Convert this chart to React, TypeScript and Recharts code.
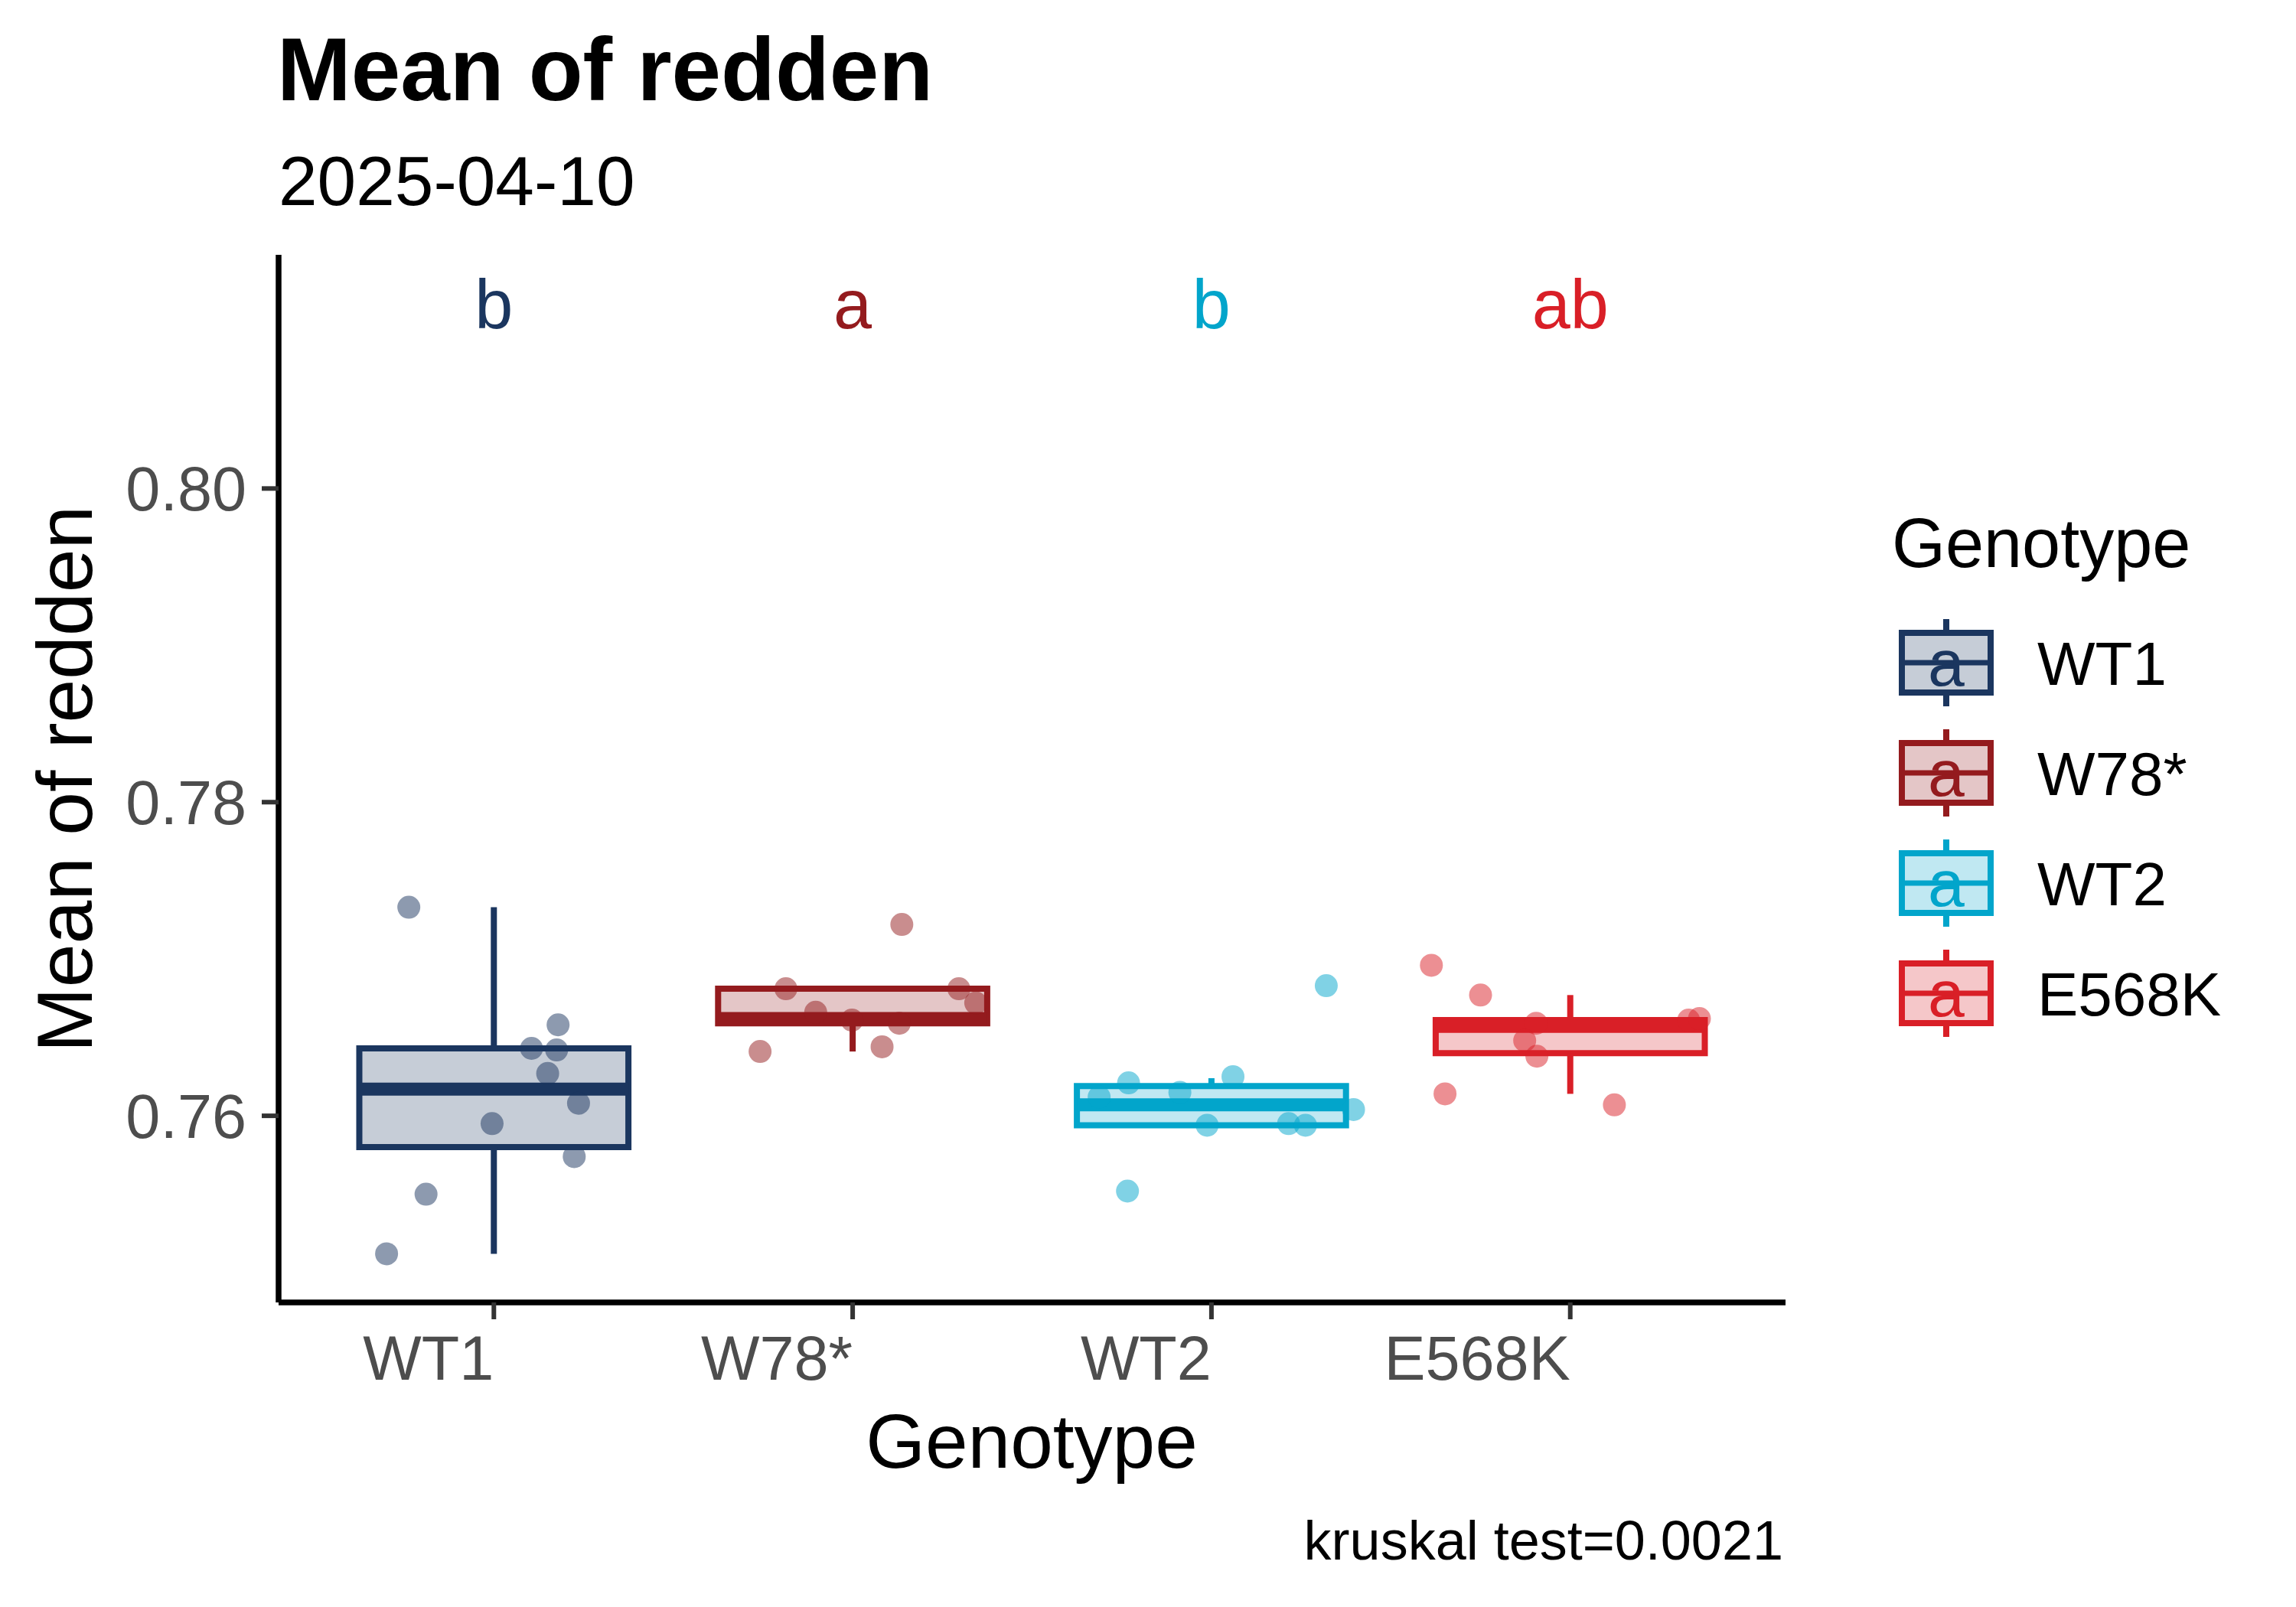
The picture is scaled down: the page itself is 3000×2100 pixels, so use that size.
import React from "react";
import {
  ComposedChart,
  XAxis,
  YAxis,
  Scatter,
  ReferenceArea,
  ReferenceLine,
  Legend,
} from "recharts";

const FONT = '"Liberation Sans", Arial, Helvetica, sans-serif';

const genotypes = ["WT1", "W78*", "WT2", "E568K"];
const colors = ["#1b365f", "#941b1e", "#02a5cb", "#d91f27"];
const letters = ["b", "a", "b", "ab"];
const letterLevel = 0.8115;

// jittered points (offset from category centre, value)
const wt1Jitter = [-0.237, 0.179, 0.105, 0.175, 0.15, 0.236, -0.005, 0.224, -0.189, -0.299];
const wt1Values = [0.7733, 0.7658, 0.7643, 0.7642, 0.7627, 0.7608, 0.7595, 0.7574, 0.755, 0.7512];
const w78Jitter = [0.137, -0.186, 0.296, 0.343, -0.103, -0.002, 0.13, -0.258, 0.082];
const w78Values = [0.7722, 0.7681, 0.7681, 0.7672, 0.7666, 0.7661, 0.7659, 0.7641, 0.7644];
const wt2Jitter = [0.32, 0.06, -0.231, -0.088, -0.313, 0.396, -0.012, 0.215, 0.262, -0.234];
const wt2Values = [0.7683, 0.7625, 0.7621, 0.7615, 0.7612, 0.7604, 0.7594, 0.7595, 0.7594, 0.7552];
const e568kJitter = [-0.387, -0.25, -0.095, -0.127, -0.093, 0.33, 0.36, -0.349, 0.123];
const e568kValues = [0.7696, 0.7677, 0.7659, 0.7648, 0.7638, 0.7661, 0.7662, 0.7614, 0.7607];

// box statistics
const whiskerLow = [0.7512, 0.7641, 0.7594, 0.7614];
const lowerQuartile = [0.758, 0.7659, 0.7594, 0.764];
const medians = [0.7617, 0.7662, 0.7607, 0.7657];
const upperQuartile = [0.7643, 0.7681, 0.7619, 0.7661];
const whiskerHigh = [0.7733, 0.7681, 0.7624, 0.7677];

const yTicks = [0.76, 0.78, 0.8];
const xTicks = [1, 2, 3, 4];
const kruskalP = "0.0021";

const jitters = [wt1Jitter, w78Jitter, wt2Jitter, e568kJitter];
const values = [wt1Values, w78Values, wt2Values, e568kValues];

const pointData = genotypes.map((g, i) =>
  values[i].map((v, j) => ({ x: i + 1 + jitters[i][j], y: v }))
);
const letterData = genotypes.map((g, i) => ({ x: i + 1, y: letterLevel, label: letters[i], color: colors[i] }));

const BOX_HALF = 0.375;
const LINE = 8;

const XTick = (props: any) => {
  const { x, y, payload } = props;
  return (
    <text x={x} y={y} dy="0.71em" textAnchor="end" fill="#4d4d4d" fontSize={81} fontFamily={FONT}>
      {genotypes[payload.value - 1]}
    </text>
  );
};

const renderLegend = () => (
  <svg width={540} height={750} style={{ display: "block" }}>
    <text x={12} y={91} fontSize={90} fontFamily={FONT} fill="#000">
      Genotype
    </text>
    {genotypes.map((g, i) => {
      const cy = 216 + i * 144;
      return (
        <g key={g}>
          <line x1={83} x2={83} y1={cy - 57} y2={cy - 39} stroke={colors[i]} strokeWidth={LINE} />
          <line x1={83} x2={83} y1={cy + 39} y2={cy + 57} stroke={colors[i]} strokeWidth={LINE} />
          <rect x={25} y={cy - 39} width={116} height={78} fill={colors[i]} fillOpacity={0.25} stroke={colors[i]} strokeWidth={LINE} />
          <line x1={25} x2={141} y1={cy} y2={cy} stroke={colors[i]} strokeWidth={7} />
          <text x={83} y={cy + 30} textAnchor="middle" fontSize={86} fontFamily={FONT} fill={colors[i]}>
            a
          </text>
          <text x={202} y={cy + 29} fontSize={80} fontFamily={FONT} fill="#000">
            {g}
          </text>
        </g>
      );
    })}
  </svg>
);

export default function App() {
  return (
    <div style={{ position: "absolute", left: 0, top: 0, width: 3000, height: 2100, background: "#fff", fontFamily: FONT }}>
      <ComposedChart width={3000} height={2100} margin={{ top: 333, right: 667, bottom: 298, left: 164 }}>
        <XAxis
          type="number"
          dataKey="x"
          domain={[0.4, 4.6]}
          ticks={xTicks}
          allowDataOverflow
          height={100}
          tick={<XTick />}
          tickSize={22}
          tickMargin={21}
          axisLine={{ stroke: "#000", strokeWidth: 7.5 }}
          tickLine={{ stroke: "#333", strokeWidth: 6 }}
        />
        <YAxis
          type="number"
          dataKey="y"
          domain={[0.7481, 0.8149]}
          ticks={yTicks}
          allowDataOverflow
          width={200}
          tickFormatter={(v: number) => v.toFixed(2)}
          tick={{ fill: "#4d4d4d", fontSize: 81, fontFamily: FONT }}
          tickSize={22}
          tickMargin={20}
          axisLine={{ stroke: "#000", strokeWidth: 7.5 }}
          tickLine={{ stroke: "#333", strokeWidth: 6 }}
        />
        {genotypes.map((g, i) => (
          <ReferenceLine
            key={`wl-${g}`}
            segment={[{ x: i + 1, y: whiskerLow[i] }, { x: i + 1, y: lowerQuartile[i] }]}
            stroke={colors[i]}
            strokeWidth={LINE}
          />
        ))}
        {genotypes.map((g, i) => (
          <ReferenceLine
            key={`wh-${g}`}
            segment={[{ x: i + 1, y: upperQuartile[i] }, { x: i + 1, y: whiskerHigh[i] }]}
            stroke={colors[i]}
            strokeWidth={LINE}
          />
        ))}
        {genotypes.map((g, i) => (
          <ReferenceArea
            key={`box-${g}`}
            x1={i + 1 - BOX_HALF}
            x2={i + 1 + BOX_HALF}
            y1={lowerQuartile[i]}
            y2={upperQuartile[i]}
            fill={colors[i]}
            fillOpacity={0.25}
            stroke={colors[i]}
            strokeWidth={LINE}
            strokeOpacity={1}
          />
        ))}
        {genotypes.map((g, i) => (
          <ReferenceLine
            key={`med-${g}`}
            segment={[{ x: i + 1 - BOX_HALF, y: medians[i] }, { x: i + 1 + BOX_HALF, y: medians[i] }]}
            stroke={colors[i]}
            strokeWidth={17}
          />
        ))}
        {genotypes.map((g, i) => (
          <Scatter
            key={`pts-${g}`}
            name={g}
            data={pointData[i]}
            isAnimationActive={false}
            shape={(p: any) => <circle cx={p.cx} cy={p.cy} r={15} fill={colors[i]} fillOpacity={0.5} />}
          />
        ))}
        <Scatter
          name="letters"
          data={letterData}
          isAnimationActive={false}
          shape={(p: any) => (
            <text x={p.cx} y={p.cy} dy={26} textAnchor="middle" fontSize={90} fontFamily={FONT} fill={p.payload.color}>
              {p.payload.label}
            </text>
          )}
        />
        <Legend
          layout="vertical"
          align="center"
          verticalAlign="middle"
          content={renderLegend}
          wrapperStyle={{ position: "absolute", left: 2460, top: 650, width: 540, height: 750 }}
        />
      </ComposedChart>
      <svg width={3000} height={2100} style={{ position: "absolute", left: 0, top: 0, pointerEvents: "none" }}>
        <text x={362} y={131} fontSize={116} fontWeight="bold" fontFamily={FONT} fill="#000">
          Mean of redden
        </text>
        <text x={364} y={268} fontSize={91} fontFamily={FONT} fill="#000">
          2025-04-10
        </text>
        <text transform="translate(120,1018) rotate(-90)" textAnchor="middle" fontSize={102} fontFamily={FONT} fill="#000">
          Mean of redden
        </text>
        <text x={1348} y={1918} textAnchor="middle" fontSize={100} fontFamily={FONT} fill="#000">
          Genotype
        </text>
        <text x={2330} y={2038} textAnchor="end" fontSize={72} fontFamily={FONT} fill="#000">
          {`kruskal test=${kruskalP}`}
        </text>
      </svg>
    </div>
  );
}
